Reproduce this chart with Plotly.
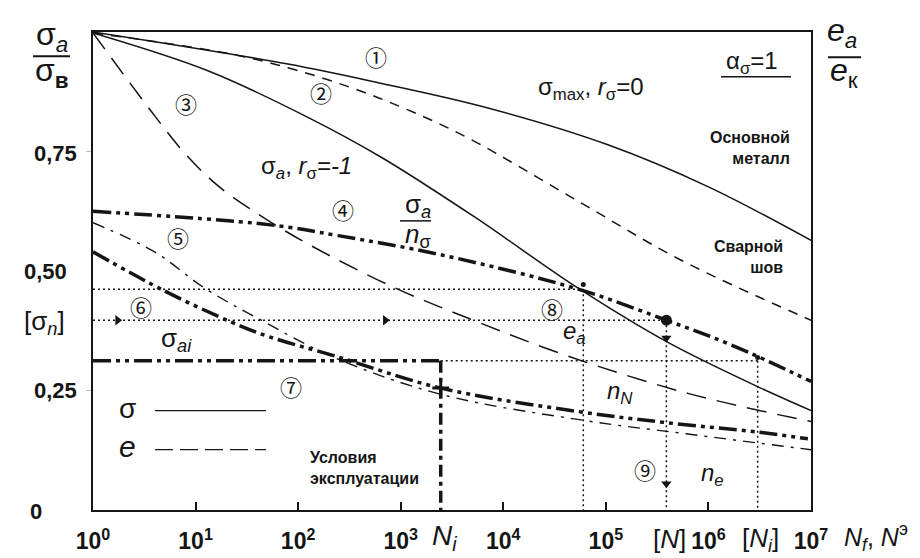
import numpy as np
import plotly.graph_objects as go

# ---------------- data (x as log10 N) ----------------
lgN_sig_max = [0, 1.90, 2.78, 3.85, 5.02, 6.00, 7.0]
sig_max = [1.0, 0.933, 0.894, 0.841, 0.764, 0.676, 0.564]

lgN_e_max = [0, 1.32, 1.97, 2.55, 3.07, 3.66, 4.73, 5.73, 7.0]
e_max = [0.998, 0.955, 0.921, 0.881, 0.837, 0.778, 0.646, 0.523, 0.397]

lgN_sig_a = [0, 1.12, 2.10, 2.81, 3.72, 4.73, 5.61, 6.51, 7.0]
sig_a = [0.998, 0.919, 0.821, 0.738, 0.613, 0.464, 0.350, 0.255, 0.208]

lgN_e_a = [0, 0.60, 0.90, 1.22, 1.64, 2.10, 2.91, 3.66, 4.63, 5.80, 7.0]
e_a = [0.998, 0.825, 0.745, 0.678, 0.615, 0.556, 0.468, 0.401, 0.322, 0.244, 0.185]

lgN_sig_a_n = [0, 1.71, 2.39, 3.39, 4.73, 5.59, 6.26, 7.0]
sig_a_n = [0.625, 0.597, 0.574, 0.534, 0.462, 0.397, 0.342, 0.269]

lgN_sig_ai = [0, 0.70, 1.35, 1.71, 2.36, 3.39, 4.73, 5.58, 6.48, 6.97]
sig_ai = [0.540, 0.458, 0.393, 0.363, 0.322, 0.255, 0.206, 0.183, 0.163, 0.149]

lgN_weld = [0, 0.60, 1.09, 1.64, 2.34, 3.39, 4.80, 5.80, 7.0]
weld = [0.601, 0.540, 0.464, 0.397, 0.320, 0.242, 0.187, 0.159, 0.126]

# reference levels / lives
lg_Ni = 3.39
lg_N8 = 4.78
lg_Nallow = 5.59
lg_Niallow = 6.48
lvl_8 = 0.462
sigma_n = 0.397
sigma_op = 0.312

# arrow heads along the [sigma_n] line and the [N] line (log10 N, level)
arrow_right_lgN = [0.24, 2.85]
arrow_down_lvl = [0.360, 0.055]

x_tick_exp = [0, 1, 2, 3, 4, 5, 6, 7]
y_tick_vals = [0, 0.25, 0.50, 0.75]
y_tick_text = ["0", "0,25", "0,50", "0,75"]


def N(lg):
    return [10 ** v for v in np.atleast_1d(lg)]


# ---------------- layout geometry ----------------
W, H = 920, 558
L, R, T, B = 85, 803, 24, 515


def pp(px, py):
    return (px - L) / (R - L), (B - py) / (B - T)


INK = "#151515"
FONT = "Liberation Sans"
CIRC = "Noto Sans CJK JP"

fig = go.Figure()


def line(x, y, dash="solid", width=1.5, shape="spline"):
    fig.add_trace(go.Scatter(x=x, y=y, mode="lines", line=dict(color=INK, width=width, dash=dash, shape=shape),
                             hoverinfo="skip", showlegend=False))


DDOT = "18px,5px,4px,5px,4px,5px"
DOTTED = "2px,3px"

line(N(lgN_sig_max), sig_max)
line(N(lgN_e_max), e_max, dash="10px,8px")
line(N(lgN_sig_a), sig_a)
line(N(lgN_e_a), e_a, dash="20px,11px")
line(N(lgN_sig_a_n), sig_a_n, dash=DDOT, width=3.5)
line(N(lgN_sig_ai), sig_ai, dash=DDOT, width=3.5)
line(N(lgN_weld), weld, dash="12px,7px,3px,7px", width=1.4)

# dotted construction lines
line(N([0, lg_N8]), [lvl_8, lvl_8], dash=DOTTED, width=1.5, shape="linear")
line(N([lg_N8, lg_N8]), [lvl_8, 0], dash=DOTTED, width=1.5, shape="linear")
line(N([0, lg_Nallow]), [sigma_n, sigma_n], dash=DOTTED, width=1.5, shape="linear")
line(N([lg_Nallow, lg_Nallow]), [sigma_n, 0], dash=DOTTED, width=1.5, shape="linear")
line(N([lg_Ni, lg_Niallow]), [sigma_op, sigma_op], dash=DOTTED, width=1.5, shape="linear")
line(N([lg_Niallow, lg_Niallow]), [sigma_op, 0], dash=DOTTED, width=1.5, shape="linear")
# operating conditions
line(N([0, lg_Ni]), [sigma_op, sigma_op], dash=DDOT, width=3.5, shape="linear")
line(N([lg_Ni, lg_Ni]), [sigma_op, 0], dash="12px,5px,4px,5px", width=3.5, shape="linear")

# markers
fig.add_trace(go.Scatter(x=N(arrow_right_lgN), y=[sigma_n] * len(arrow_right_lgN), mode="markers",
                         marker=dict(symbol="triangle-right", size=9, color=INK), hoverinfo="skip", showlegend=False))
fig.add_trace(go.Scatter(x=N([lg_Nallow] * len(arrow_down_lvl)), y=arrow_down_lvl, mode="markers",
                         marker=dict(symbol="triangle-down", size=9, color=INK), hoverinfo="skip", showlegend=False))
fig.add_trace(go.Scatter(x=N([lg_Nallow]), y=[sigma_n], mode="markers",
                         marker=dict(symbol="circle", size=11, color=INK), hoverinfo="skip", showlegend=False))
fig.add_trace(go.Scatter(x=N([lg_Niallow, lg_N8]), y=[sigma_op + 0.007, lvl_8 + 0.01], mode="markers",
                         marker=dict(symbol="circle", size=5, color=INK), hoverinfo="skip", showlegend=False))
fig.add_trace(go.Scatter(x=N([lg_Ni]), y=[0.255], mode="markers",
                         marker=dict(symbol="cross-thin", size=12, line=dict(width=3, color=INK)), hoverinfo="skip",
                         showlegend=False))

ann = []


def txt(text, px, py, size, xanchor="center", family=FONT, align="center"):
    x, y = pp(px, py)
    ann.append(dict(text=text, x=x, y=y, xref="paper", yref="paper", xanchor=xanchor, yanchor="middle",
                    showarrow=False, align=align, font=dict(size=size, family=family, color=INK)))


shapes = []


def seg(x0, y0, x1, y1, width=1.5, dash="solid"):
    a, b = pp(x0, y0)
    c, d = pp(x1, y1)
    shapes.append(dict(type="line", xref="paper", yref="paper", x0=a, y0=b, x1=c, y1=d,
                       line=dict(color=INK, width=width, dash=dash)))


# y tick labels
y_label_pos = {"0": (28, 517), "0,25": (47, 392), "0,50": (37, 270), "0,75": (47, 149)}
for v, t in zip(y_tick_vals, y_tick_text):
    px, py = y_label_pos[t]
    txt("<b>" + t + "</b>", px, py, 22)

# axis titles (fractions)
txt("σ<sub><i>a</i></sub>", 44, 29, 32)
seg(25, 49, 62, 49, width=2)
txt("σ<sub><b>в</b></sub>", 44, 66, 32)

txt("<i>e</i><sub><i>a</i></sub>", 834, 24, 32)
seg(820, 50, 853, 50, width=2)
txt("<i>e</i><sub>к</sub>", 836, 66, 32)

txt("α<sub>σ</sub>=1", 744, 55, 24)
seg(713, 70, 783, 70, width=1.5)

# curve labels
txt("σ<sub>max</sub>, <i>r</i><sub>σ</sub>=0", 583, 82, 24)
txt("σ<sub><i>a</i></sub>, <i>r</i><sub>σ</sub><i>=-1</i>", 298, 163, 24)
txt("σ<sub><i>a</i></sub>", 410, 202, 26)
seg(392, 218, 423, 218, width=1.5)
txt("<i>n</i><sub>σ</sub>", 410, 233, 26)
txt("[σ<sub><i>n</i></sub>]", 36, 322, 26)
txt("σ<sub><i>ai</i></sub>", 168, 340, 26)
txt("<i>e</i><sub><i>a</i></sub>", 566, 333, 24)
txt("<i>n</i><sub><i>N</i></sub>", 612, 394, 24)
txt("<i>n</i><sub><i>e</i></sub>", 704, 479, 24)

txt("<b>Основной<br>металл</b>", 784, 143, 16, xanchor="right", align="right")
txt("<b>Сварной<br>шов</b>", 777, 255, 16, xanchor="right", align="right")
txt("<b>Условия<br>эксплуатации</b>", 300, 472, 16, xanchor="left", align="left")

# legend inside plot
txt("σ", 119, 411, 28)
seg(147, 413, 258, 413, width=1.3)
txt("<i>e</i>", 119, 450, 30)
seg(147, 453, 258, 453, width=1.3, dash="18px,7px")

# circled numbers
for s, (px, py) in zip("①②③④⑤⑥⑦⑧⑨",
                       [(368, 49), (313, 86), (178, 97), (335, 206), (170, 235), (133, 305), (283, 388),
                        (544, 307), (637, 473)]):
    txt(s, px, py, 22, family=CIRC)

# special x labels
txt("<i>N</i><sub><i>i</i></sub>", 436, 543, 28)
txt("[<i>N</i>]", 661, 545, 26)
txt("[<i>N</i><sub><i>i</i></sub>]", 752, 545, 26)
txt("<i>N</i><sub><i>f</i></sub>, <i>N</i><sup>э</sup>", 868, 543, 25)

fig.update_layout(
    width=W, height=H,
    margin=dict(l=L, r=W - R, t=T, b=H - B, pad=0),
    paper_bgcolor="white", plot_bgcolor="white",
    annotations=ann, shapes=shapes,
    xaxis=dict(type="log", range=[0, 7], showgrid=False, zeroline=False,
               showline=True, mirror=True, linecolor=INK, linewidth=1.6,
               ticks="inside", ticklen=8, tickwidth=1.5, tickcolor=INK,
               tickvals=[10 ** e for e in x_tick_exp],
               ticktext=["<b>10<sup>%d</sup></b>" % e for e in x_tick_exp],
               tickfont=dict(size=23, family=FONT, color=INK), ticklabelstandoff=10),
    yaxis=dict(range=[0, 1.0], showgrid=False, zeroline=False, showline=True, mirror=True,
               linecolor=INK, linewidth=1.6, showticklabels=False,
               ticks="outside", ticklen=5, tickcolor="#bbbbbb", tickvals=[0.25, 0.75]),
)

fig.write_html("out.html")
